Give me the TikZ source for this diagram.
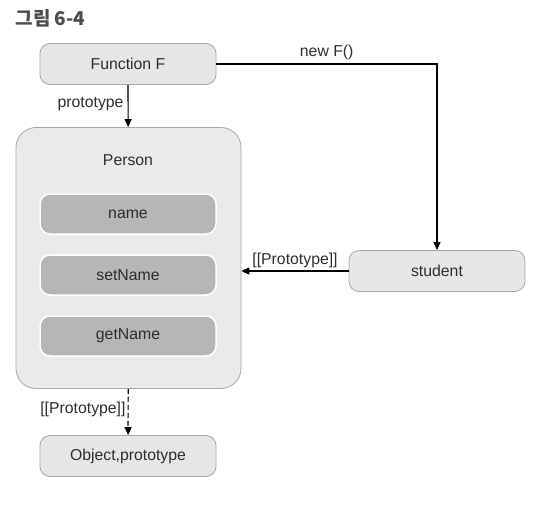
\documentclass[tikz,border=0pt]{standalone}
\usepackage{fontspec}
\setmainfont{Liberation Sans}
\newfontfamily\krfont{Noto Sans CJK KR}
\usetikzlibrary{arrows.meta,positioning}

\definecolor{boxfill}{HTML}{E6E6E6}
\definecolor{boxline}{HTML}{A9A9A9}
\definecolor{slotfill}{HTML}{B6B6B6}
\definecolor{txtgray}{HTML}{2E2E2E}

\begin{document}
\begin{tikzpicture}[
      x=1pt, y=-1pt,
      every node/.style={font=\fontsize{15.8pt}{17pt}\selectfont, text=txtgray},
      objbox/.style={draw=boxline, fill=boxfill, rounded corners=10pt, line width=0.8pt, minimum width=176pt, minimum height=41pt, inner sep=0pt},
      slot/.style={draw=white, fill=slotfill, rounded corners=10pt, line width=1.5pt, minimum width=176pt, minimum height=40pt, inner sep=0pt},
      container/.style={draw=boxline, fill=boxfill!85!white, rounded corners=20pt, line width=0.8pt, minimum width=225pt, minimum height=261pt, inner sep=0pt},
      lbl/.style={font=\fontsize{15.8pt}{17pt}\selectfont, inner sep=2pt},
      arr/.style={-{Triangle[length=8pt, width=7pt]}, line width=1.2pt, color=black}
  ]
      \useasboundingbox (0,0) rectangle (545,516);

      % TITLE
      \node[anchor=west, font=\krfont\bfseries\fontsize{19pt}{21pt}\selectfont, text=black!70] (title) at (12, 18) {그림 6-4};

      % CONSTRUCTOR
      \node[objbox] (func) at (128, 64) {Function F};

      % PROTOTYPE OBJECT
      \node[container] (person) at (128.5, 258) {};
      \node (ptitle) at (128, 160) {Person};
      \node[slot] (name) at (128, 214) {name};
      \node[slot] (setname) at (128, 275) {setName};
      \node[slot] (getname) at (128, 336) {getName};

      % INSTANCE
      \node[objbox] (student) at (437, 271) {student};

      % ROOT
      \node[objbox] (objproto) at (128, 456) {Object,prototype};

      \draw[arr] (func) -- node[lbl, left, pos=0.45, xshift=-2pt] {prototype} (person);
      \draw[arr] (func.east) -| node[lbl, above, pos=0.25, yshift=2pt] {new F()} (student.north);
      \draw[arr] (student.west) -- node[lbl, above, yshift=1pt] {[[Prototype]]} (student.west -| person.east);
      \draw[arr, dash pattern=on 5pt off 3pt] (person) -- node[lbl, left, pos=0.45] {[[Prototype]]} (objproto);
  \end{tikzpicture}
\end{document}
